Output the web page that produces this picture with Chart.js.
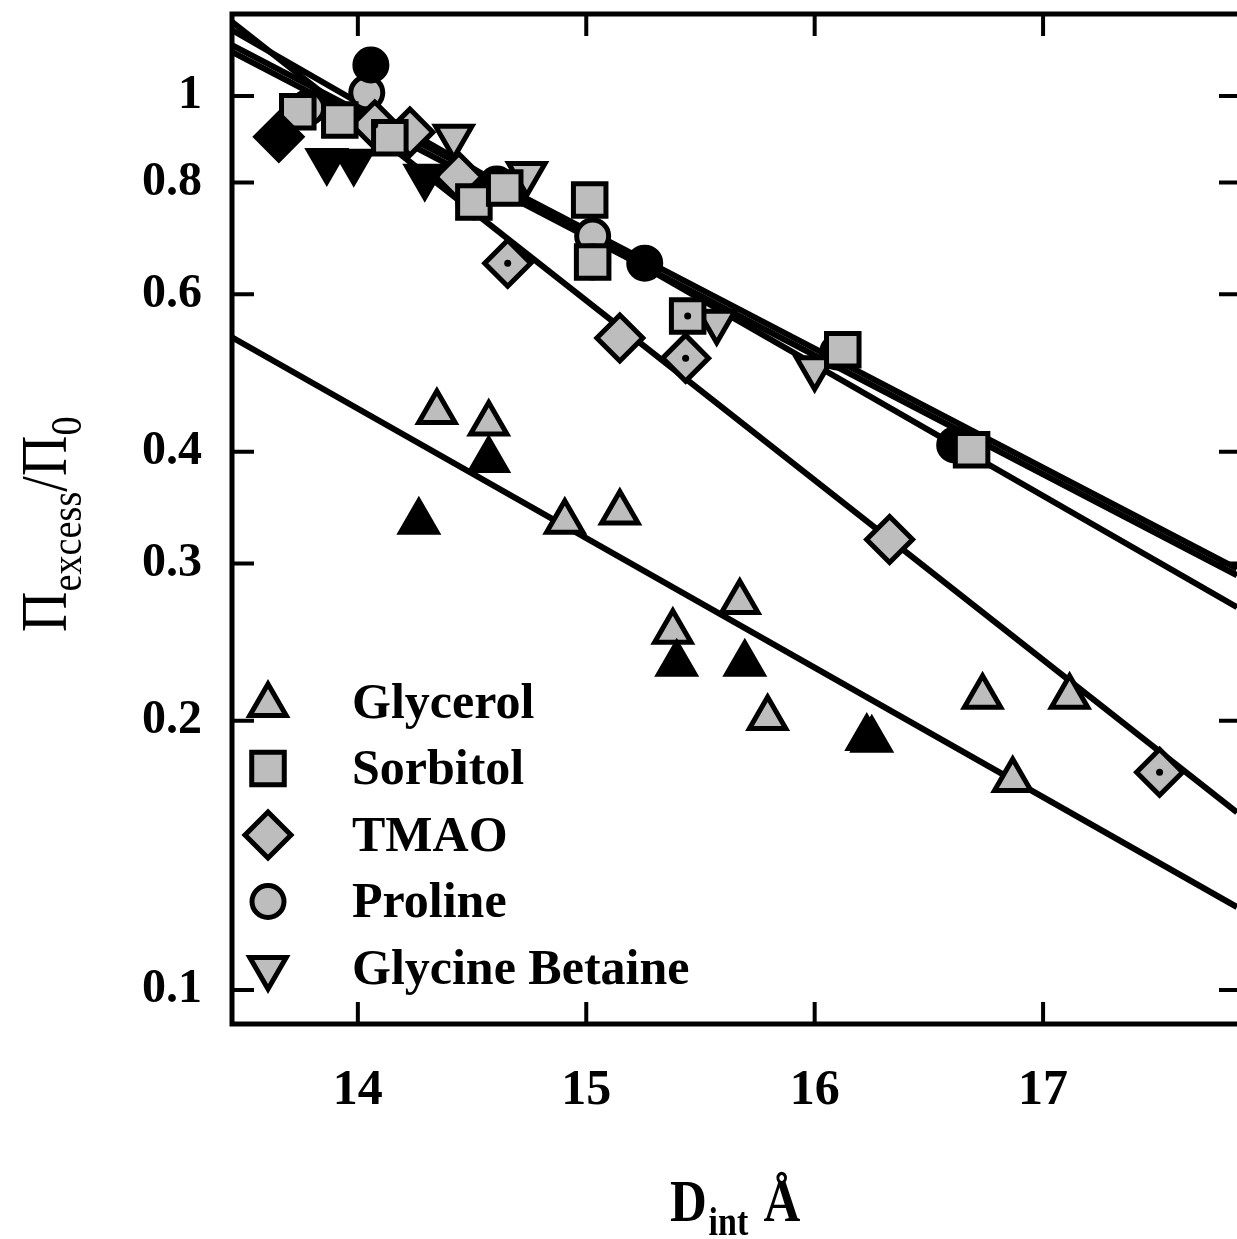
<!DOCTYPE html>
<html lang="en">
<head>
<meta charset="utf-8">
<title>Excess osmotic pressure vs D_int</title>
<script src="https://cdn.jsdelivr.net/npm/chart.js"></script>
<style>
  html,body{margin:0;padding:0;background:#fff;}
  #wrap{width:1237px;height:1239px;position:relative;}
</style>
</head>
<body>
<div id="wrap"><canvas id="myChart"></canvas></div>
<script>
/* ── axis ranges and ticks ─────────────────────────────── */
const X_MIN = 13.449, X_MAX = 17.849;
const Y_MIN = 0.0916, Y_MAX = 1.235;
const xTicks = [14, 15, 16, 17];
const yTicks = [0.1, 0.2, 0.3, 0.4, 0.6, 0.8, 1];

/* ── measured points (gray = open set, black = filled set) ── */
const glycerolX      = [14.346, 14.573, 14.906, 15.147, 15.379, 15.672, 15.794, 16.735, 16.867, 17.116];
const glycerolY      = [0.443, 0.430, 0.334, 0.342, 0.2515, 0.2716, 0.2015, 0.2128, 0.1717, 0.2128];
const glycerolBlackX = [14.267, 14.573, 15.396, 15.694, 16.228, 16.250];
const glycerolBlackY = [0.334, 0.3916, 0.2316, 0.2316, 0.1913, 0.1905];

const sorbitolX = [13.737, 13.921, 14.140, 14.508, 14.643, 15.015, 15.028, 15.444, 16.123, 16.687];
const sorbitolY = [0.960, 0.940, 0.898, 0.761, 0.789, 0.765, 0.652, 0.5675, 0.520, 0.402];

const tmaoX      = [14.074, 14.228, 14.442, 14.656, 15.147, 15.435, 16.328, 17.510];
const tmaoY      = [0.928, 0.911, 0.812, 0.650, 0.536, 0.509, 0.319, 0.1752];
const tmaoBlackX = [13.654];
const tmaoBlackY = [0.900];

const prolineX      = [13.781, 14.039, 15.028, 16.101];
const prolineY      = [0.970, 1.008, 0.697, 0.517];
const prolineBlackX = [14.057, 14.508, 14.608, 15.028, 15.256, 16.613];
const prolineBlackY = [1.083, 0.761, 0.797, 0.652, 0.650, 0.407];

const betaineX      = [14.420, 14.740, 15.571, 16.000];
const betaineY      = [0.900, 0.818, 0.559, 0.496];
const betaineBlackX = [13.864, 13.982, 14.293];
const betaineBlackY = [0.846, 0.844, 0.812];

// small centre dots visible inside some markers
const dotX = [14.074, 14.656, 15.435, 15.444, 17.510];
const dotY = [0.928, 0.650, 0.509, 0.5675, 0.1752];

/* ── fitted lines, end values at the axis limits ───────── */
const fitX        = [X_MIN, X_MAX];
const glycerolFit = [0.537, 0.1238];
const tmaoFit     = [1.21, 0.158];
const sorbitolFit = [1.14, 0.296];
const prolineFit  = [1.12, 0.291];
const betaineFit  = [1.185, 0.268];

/* ── legend ─────────────────────────────────────────────── */
const legendLabels = ['Glycerol', 'Sorbitol', 'TMAO', 'Proline', 'Glycine Betaine'];
const legendStyles = ['triangle', 'rect', 'rectRot', 'circle', 'triangle'];
const legendRot    = [0, 0, 0, 0, 180];
const legendRad    = [21, 23, 23, 16, 21];

const GRAY = '#bdbdbd';
const SERIF = '"Liberation Serif","Times New Roman",serif';

const pts = (xs, ys) => xs.map((x, i) => ({x, y: ys[i]}));

function markerSet(label, xs, ys, style, radius, fill, rot){
  return {
    label, data: pts(xs, ys), pointStyle: style, rotation: rot || 0,
    pointRadius: radius, pointHoverRadius: radius,
    backgroundColor: fill, borderColor: '#000', borderWidth: 5, order: 1
  };
}
function fitLine(label, ys){
  return {
    label, data: pts(fitX, ys), showLine: true, pointRadius: 0,
    borderColor: '#000', borderWidth: 6, order: 10
  };
}

const datasets = [
  fitLine('Glycerol fit', glycerolFit),
  fitLine('TMAO fit', tmaoFit),
  fitLine('Sorbitol fit', sorbitolFit),
  fitLine('Proline fit', prolineFit),
  fitLine('Glycine Betaine fit', betaineFit),
  markerSet('Glycerol (filled)', glycerolBlackX, glycerolBlackY, 'triangle', 21, '#000'),
  markerSet('Glycine Betaine (filled)', betaineBlackX, betaineBlackY, 'triangle', 21, '#000', 180),
  markerSet('TMAO (filled)', tmaoBlackX, tmaoBlackY, 'rectRot', 23, '#000'),
  markerSet('Sorbitol', sorbitolX, sorbitolY, 'rect', 23, GRAY),
  markerSet('Proline (filled)', prolineBlackX, prolineBlackY, 'circle', 16, '#000'),
  markerSet('TMAO', tmaoX, tmaoY, 'rectRot', 23, GRAY),
  markerSet('Glycine Betaine', betaineX, betaineY, 'triangle', 21, GRAY, 180),
  markerSet('Proline', prolineX, prolineY, 'circle', 16, GRAY),
  markerSet('Glycerol', glycerolX, glycerolY, 'triangle', 21, GRAY),
  {label: 'dots', data: pts(dotX, dotY), pointRadius: 3.5, backgroundColor: '#000',
   borderWidth: 0, order: 0}
];

/* ── frame, inward ticks, titles and legend ────────────── */
const framePlugin = {
  id: 'frame',
  afterDatasetsDraw(chart){
    const {ctx, chartArea: a, scales: {x, y}} = chart;
    const TL = 22;
    ctx.save();
    ctx.strokeStyle = '#000';
    ctx.lineWidth = 5;
    ctx.lineCap = 'square';
    ctx.beginPath();
    ctx.moveTo(a.right + 5, a.top); ctx.lineTo(a.left, a.top);
    ctx.lineTo(a.left, a.bottom); ctx.lineTo(a.right + 5, a.bottom);
    ctx.stroke();
    ctx.lineCap = 'butt';
    ctx.lineWidth = 4;
    ctx.beginPath();
    yTicks.forEach(v => {
      const py = y.getPixelForValue(v);
      ctx.moveTo(a.left, py); ctx.lineTo(a.left + TL, py);
      ctx.moveTo(a.right - TL + 4, py); ctx.lineTo(a.right, py);
    });
    xTicks.forEach(v => {
      const px = x.getPixelForValue(v);
      ctx.moveTo(px, a.top); ctx.lineTo(px, a.top + TL);
      ctx.moveTo(px, a.bottom); ctx.lineTo(px, a.bottom - TL);
    });
    ctx.stroke();

    // legend
    const lx = 268, ly0 = 702, dy = 66.5;
    legendLabels.forEach((lab, i) => {
      const yy = ly0 + i * dy;
      ctx.fillStyle = GRAY; ctx.strokeStyle = '#000'; ctx.lineWidth = 5;
      Chart.helpers.drawPoint(ctx, {pointStyle: legendStyles[i], rotation: legendRot[i],
        radius: legendRad[i], borderWidth: 5}, lx, yy + (i === 0 ? 3 : 0));
      ctx.fillStyle = '#000';
      ctx.font = 'bold 50px ' + SERIF;
      ctx.textBaseline = 'middle';
      ctx.textAlign = 'left';
      ctx.fillText(lab, 352, yy + 3);
    });

    // x title: D_int Å
    ctx.fillStyle = '#000';
    ctx.textBaseline = 'alphabetic';
    ctx.save();
    ctx.translate(670, 1221);
    ctx.scale(0.85, 1);
    ctx.font = 'bold 60px ' + SERIF;
    ctx.fillText('D', 0, 0);
    let w = ctx.measureText('D').width;
    ctx.font = 'bold 40px ' + SERIF;
    ctx.fillText('int', w + 2, 14);
    w += ctx.measureText('int').width + 20;
    ctx.font = 'bold 60px ' + SERIF;
    ctx.fillText('Å', w, 0);
    ctx.restore();

    // y title: Π_excess / Π_0
    ctx.save();
    ctx.translate(66, 632);
    ctx.rotate(-Math.PI / 2);
    ctx.scale(0.85, 1);
    ctx.font = '66px ' + SERIF;
    ctx.fillText('Π', 0, 0);
    let t = ctx.measureText('Π').width;
    ctx.font = '45px ' + SERIF;
    ctx.fillText('excess', t, 15);
    t += ctx.measureText('excess').width;
    ctx.font = '66px ' + SERIF;
    ctx.fillText('/Π', t, 0);
    t += ctx.measureText('/Π').width;
    ctx.font = '45px ' + SERIF;
    ctx.fillText('0', t, 15);
    ctx.restore();
    ctx.restore();
  }
};

// drop the edge padding Chart.js reserves for end tick labels
function noPad(s){
  s.paddingTop = 0; s.paddingBottom = 0; s.paddingLeft = 0; s.paddingRight = 0;
}

new Chart(document.getElementById('myChart'), {
  type: 'scatter',
  data: {datasets},
  plugins: [framePlugin],
  options: {
    responsive: true,
    maintainAspectRatio: false,
    animation: false,
    layout: {autoPadding: false, padding: {top: 14, right: 0, left: 0, bottom: 0}},
    plugins: {legend: {display: false}, tooltip: {enabled: false}},
    scales: {
      x: {
        type: 'linear', min: X_MIN, max: X_MAX,
        grid: {display: false, drawTicks: false},
        border: {display: false},
        afterBuildTicks: s => { s.ticks = xTicks.map(v => ({value: v})); },
        afterFit: s => { s.height = 215; noPad(s); },
        ticks: {
          color: '#000', padding: 37, maxRotation: 0,
          font: {family: SERIF, size: 50, weight: 'bold'},
          callback: v => String(v)
        }
      },
      y: {
        type: 'logarithmic', min: Y_MIN, max: Y_MAX,
        grid: {display: false, drawTicks: false},
        border: {display: false},
        afterBuildTicks: s => { s.ticks = yTicks.map(v => ({value: v})); },
        afterFit: s => { s.width = 232; noPad(s); },
        ticks: {
          color: '#000', padding: 30,
          font: {family: SERIF, size: 48, weight: 'bold'},
          callback: v => String(v)
        }
      }
    }
  }
});
</script>
</body>
</html>
